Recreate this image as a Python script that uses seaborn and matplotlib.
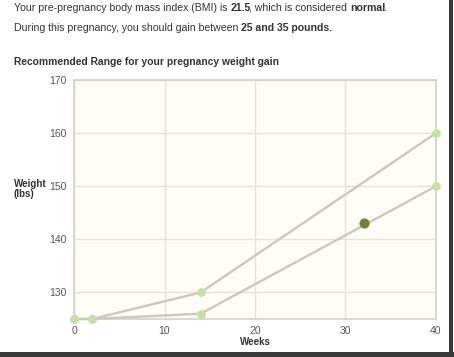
import matplotlib
matplotlib.use('Agg')
import matplotlib.pyplot as plt
import seaborn as sns
import pandas as pd
from matplotlib.patches import Rectangle

# chart values
weeks = [0, 2, 14, 40]
upper_weight = [125, 125, 130, 160]
lower_weight = [125, 125, 126, 150]
current_week = [32]
current_weight = [143]
x_ticks = [0, 10, 20, 30, 40]
y_ticks = [130, 140, 150, 160, 170]

sns.set_theme(style='white')
plt.rcParams['font.family'] = ['Liberation Sans', 'DejaVu Sans']

fig = plt.figure(figsize=(4.54, 3.57), dpi=100)
fig.patch.set_facecolor('white')

# screenshot shadow on right and bottom
fig.patches.append(Rectangle((449 / 454, 0), 4 / 454, 1, transform=fig.transFigure,
                             facecolor='#3a3a3a', edgecolor='none'))
fig.patches.append(Rectangle((0, 0), 1, 5 / 357, transform=fig.transFigure,
                             facecolor='#3a3a3a', edgecolor='none'))

ax = fig.add_axes([74 / 454, 1 - 319 / 357, 362 / 454, 239 / 357])
ax.set_facecolor('#fdfdf6')

df = pd.DataFrame({'week': weeks, 'upper': upper_weight, 'lower': lower_weight})
for col in ['upper', 'lower']:
    sns.lineplot(data=df, x='week', y=col, ax=ax, color='#c9c9c1', linewidth=1.7,
                 marker='o', markersize=5.5, markerfacecolor='#c5e0a5',
                 markeredgecolor='#c5e0a5', clip_on=False, zorder=3)
sns.scatterplot(x=current_week, y=current_weight, ax=ax, s=45, color='#6f8236',
                edgecolor='#6f8236', zorder=4)

ax.set_xlim(0, 40)
ax.set_ylim(125, 170)
ax.set_xticks(x_ticks)
ax.set_yticks(y_ticks)
ax.grid(True, color='#e3e3da', linewidth=1)
ax.set_axisbelow(True)
for s in ax.spines.values():
    s.set_color('#d2d2ca')
    s.set_linewidth(1.2)
ax.tick_params(length=0, labelsize=7.5, colors='#555555', pad=5)
ax.set_xlabel('Weeks', fontsize=7, fontweight='bold', color='#333333', labelpad=1)
ax.set_ylabel('')
fig.text(14 / 454, 1 - 189 / 357, 'Weight\n(lbs)', fontsize=7, fontweight='bold',
         color='#333333', va='center', ha='left', linespacing=1.1)


def rich_line(x, y, runs, size=7.6, color='#333333'):
    fig.canvas.draw()
    r = fig.canvas.get_renderer()
    cx = x
    for txt, w in runs:
        t = fig.text(cx, y, txt, fontsize=size, fontweight=w, color=color,
                     va='center', ha='left')
        bb = t.get_window_extent(renderer=r)
        trim = 1.5 if w == 'bold' else 0
        cx += (bb.width - trim) / fig.bbox.width


rich_line(14 / 454, 1 - 8 / 357, [
    ('Your pre-pregnancy body mass index (BMI) is ', 'normal'),
    ('21.5', 'bold'),
    (', which is considered ', 'normal'),
    ('normal', 'bold'),
    ('.', 'normal'),
])
rich_line(14 / 454, 1 - 28 / 357, [
    ('During this pregnancy, you should gain between ', 'normal'),
    ('25 and 35 pounds.', 'bold'),
])
fig.text(14 / 454, 1 - 62 / 357, 'Recommended Range for your pregnancy weight gain',
         fontsize=7.4, fontweight='bold', color='#333333', va='center', ha='left')

fig.savefig('out.png', dpi=100)
